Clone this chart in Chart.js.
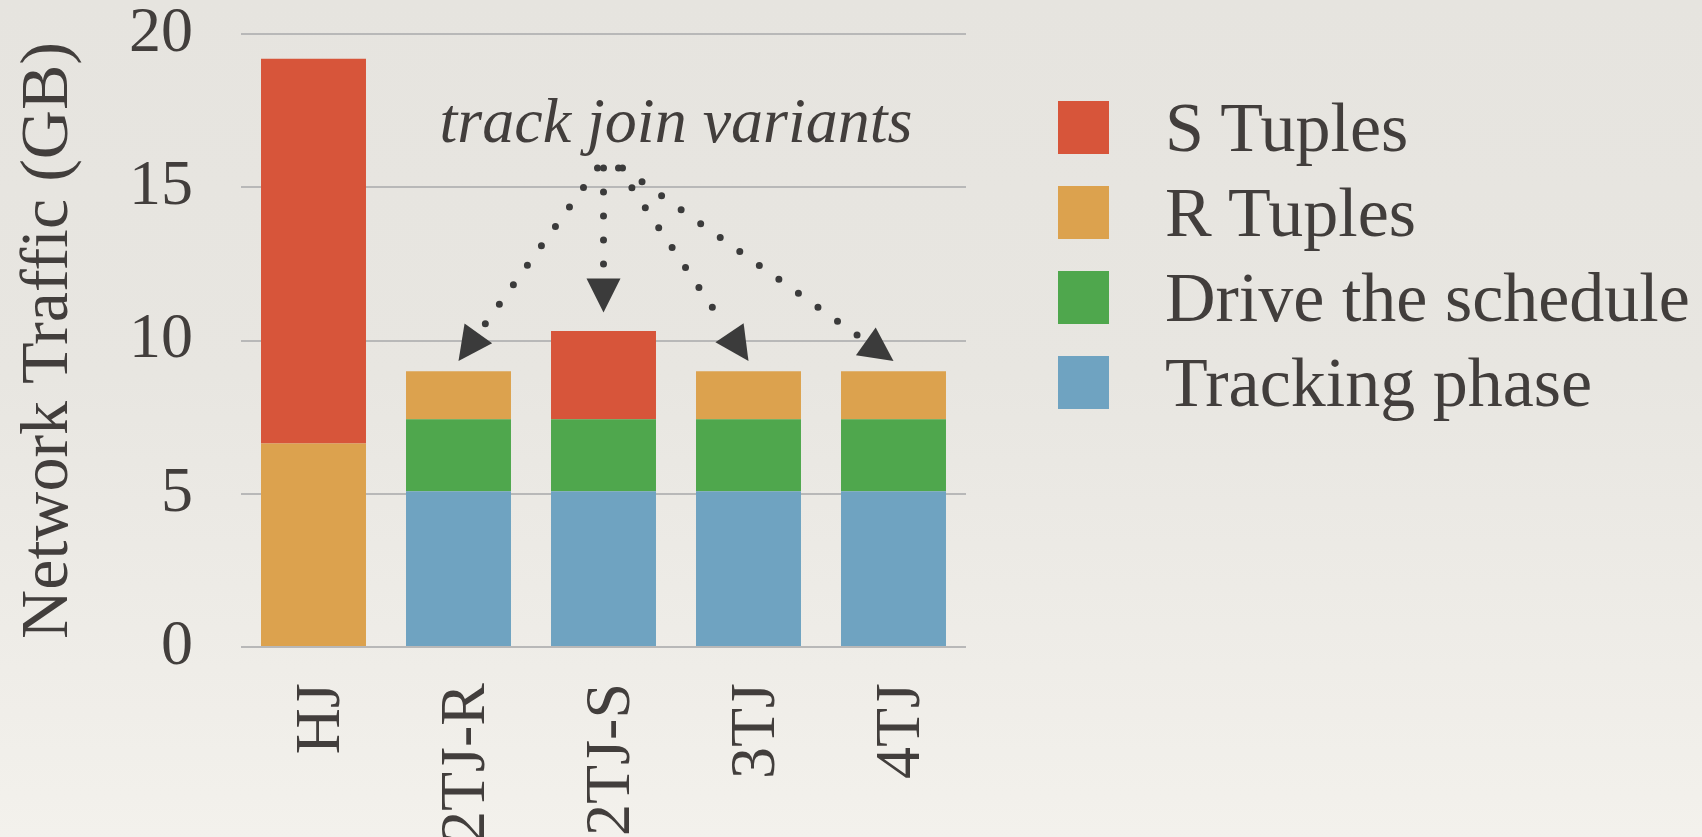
<!DOCTYPE html>
<html>
<head>
<meta charset="utf-8">
<title>Network Traffic</title>
<script src="https://cdn.jsdelivr.net/npm/chart.js@4.4.1/dist/chart.umd.min.js"></script>
<style>
  html, body { margin: 0; padding: 0; }
  body {
    width: 1702px;
    height: 837px;
    overflow: hidden;
    position: relative;
    background: linear-gradient(180deg, #e6e4df 0%, #e8e6e1 45%, #f3f1ec 100%);
    font-family: "Liberation Serif", serif;
    color: #423e3c;
  }
  #wrap { position: absolute; left: 0; top: 0; width: 1702px; height: 837px; }
  #legend { position: absolute; left: 1058px; top: 101px; margin: 0; padding: 0; list-style: none; }
  #legend li { height: 53px; margin-bottom: 32px; display: flex; align-items: center; white-space: nowrap; font-size: 70px; }
  #legend .box { width: 51px; height: 53px; margin-right: 56px; flex: none; }
</style>
</head>
<body>
<div id="wrap"><canvas id="traffic"></canvas></div>
<ul id="legend"></ul>
<script>
// join strategies on the x axis
const joins = ["HJ", "2TJ-R", "2TJ-S", "3TJ", "4TJ"];

// traffic per phase, GB (stacked bottom to top)
const trackingPhase = [0, 5.08, 5.08, 5.08, 5.08];
const driveSchedule = [0, 2.35, 2.35, 2.35, 2.35];
const rTuples = [6.64, 1.57, 0, 1.57, 1.57];
const sTuples = [12.55, 0, 2.88, 0, 0];

const yTicks = [0, 5, 10, 15, 20];

const textColor = "#423e3c";
const serif = "'Liberation Serif', serif";

const totals = joins.map((_, i) => trackingPhase[i] + driveSchedule[i] + rTuples[i] + sTuples[i]);

// dotted arrows from the "track join variants" note down to the TJ bars
const trackJoinArrows = {
    id: "trackJoinArrows",
    afterDatasetsDraw(chart) {
        const { ctx, scales: { x, y } } = chart;
        const mid = (x.getPixelForValue(2) + x.getPixelForValue(3)) / 2;

        ctx.save();
        ctx.fillStyle = textColor;
        ctx.font = "italic 64px " + serif;
        ctx.textAlign = "center";
        ctx.textBaseline = "alphabetic";
        ctx.fillText("track join variants", mid, y.getPixelForValue(16.48));

        const ox = x.getPixelForValue(2);
        const oy = y.getPixelForValue(15.63);
        const targets = [
            { i: 1, dx: -6, lift: 0.33 },
            { i: 2, dx: 0, lift: 0.6 },
            { i: 3, dx: 15, lift: 0.33 },
            { i: 4, dx: 19, lift: 0.33 }
        ];

        targets.forEach(t => {
            const sx = ox + t.dx;
            const sy = oy;
            const tx = x.getPixelForValue(t.i);
            const ty = y.getPixelForValue(totals[t.i] + t.lift);
            const len = Math.hypot(tx - sx, ty - sy);
            const ux = (tx - sx) / len;
            const uy = (ty - sy) / len;
            const head = 34;
            const bx = tx - ux * head;
            const by = ty - uy * head;

            ctx.strokeStyle = "#3b3b3b";
            ctx.lineWidth = 7;
            ctx.lineCap = "round";
            ctx.setLineDash([0, 24]);
            ctx.beginPath();
            ctx.moveTo(sx, sy);
            ctx.lineTo(bx - ux * 8, by - uy * 8);
            ctx.stroke();
            ctx.setLineDash([]);

            ctx.fillStyle = "#3b3b3b";
            ctx.beginPath();
            ctx.moveTo(tx, ty);
            ctx.lineTo(bx - uy * 17, by + ux * 17);
            ctx.lineTo(bx + uy * 17, by - ux * 17);
            ctx.closePath();
            ctx.fill();
        });
        ctx.restore();
    }
};

const datasets = [
    { label: "Tracking phase", data: trackingPhase, backgroundColor: "#6fa3c1" },
    { label: "Drive the schedule", data: driveSchedule, backgroundColor: "#4fa74d" },
    { label: "R Tuples", data: rTuples, backgroundColor: "#dca24e" },
    { label: "S Tuples", data: sTuples, backgroundColor: "#d7553a" }
];

const chart = new Chart(document.getElementById("traffic"), {
    type: "bar",
    data: { labels: joins, datasets: datasets },
    options: {
        responsive: true,
        maintainAspectRatio: false,
        animation: false,
        barPercentage: 0.724,
        categoryPercentage: 1,
        layout: { padding: { top: 34, right: 736, left: 0, bottom: 0 } },
        plugins: {
            legend: { display: false },
            tooltip: { enabled: false }
        },
        scales: {
            x: {
                stacked: true,
                grid: { display: false },
                border: { display: false },
                ticks: {
                    color: textColor,
                    font: { family: serif, size: 64 },
                    minRotation: 90,
                    maxRotation: 90,
                    padding: 28,
                    labelOffset: 9
                },
                afterFit(scale) {
                    scale.height = 190;
                    scale.paddingLeft = 0;
                    scale.paddingRight = 0;
                }
            },
            y: {
                stacked: true,
                min: 0,
                max: 20,
                afterBuildTicks(scale) { scale.ticks = yTicks.map(v => ({ value: v })); },
                grid: { color: "#b8b8b8", lineWidth: 2, drawTicks: false },
                border: { display: false },
                ticks: {
                    color: textColor,
                    font: { family: serif, size: 64, lineHeight: 1 },
                    padding: 48
                },
                title: {
                    display: true,
                    text: "Network Traffic (GB)",
                    color: textColor,
                    font: { family: serif, size: 68 },
                    padding: { top: 8, bottom: 0 }
                },
                afterFit(scale) {
                    scale.width = 241;
                    scale.paddingTop = 0;
                    scale.paddingBottom = 0;
                }
            }
        }
    },
    plugins: [trackJoinArrows]
});

// legend lists the top of the stack first
const legend = document.getElementById("legend");
datasets.slice().reverse().forEach(ds => {
    const li = document.createElement("li");
    const box = document.createElement("span");
    box.className = "box";
    box.style.background = ds.backgroundColor;
    li.appendChild(box);
    li.appendChild(document.createTextNode(ds.label));
    legend.appendChild(li);
});
</script>
</body>
</html>
